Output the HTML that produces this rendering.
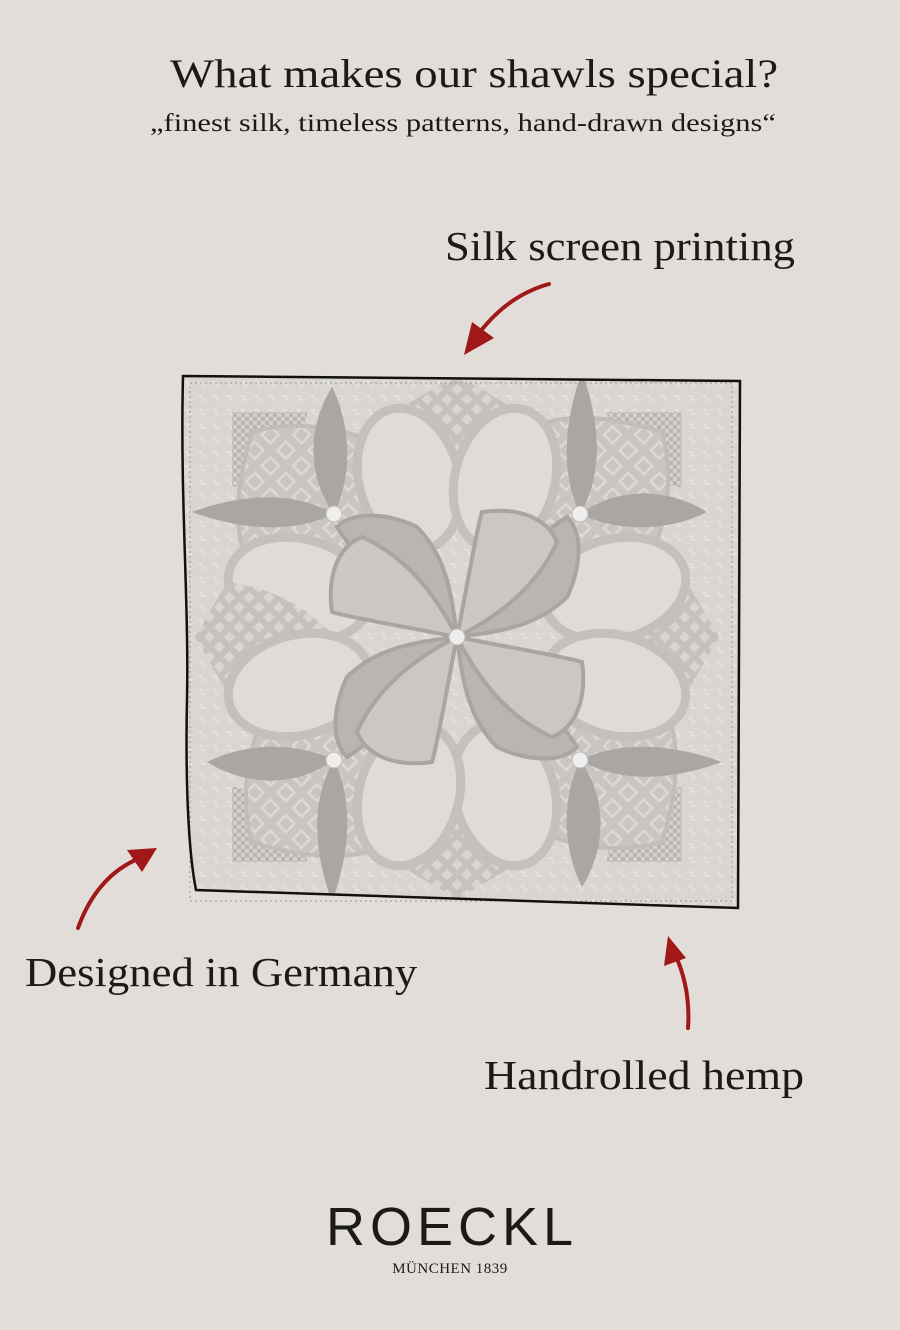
<!DOCTYPE html>
<html><head><meta charset="utf-8">
<style>
html,body{margin:0;padding:0;background:#e2ddd8;}
body{width:900px;height:1330px;position:relative;overflow:hidden;font-family:"Liberation Serif",serif;color:#1a1a1a;}
.t{position:absolute;white-space:nowrap;transform-origin:0 0;}
</style></head><body>
<div class="t" style="left:170px;top:50px;font-size:40px;transform:scaleX(1.17);">What makes our shawls special?</div>
<div class="t" style="left:150px;top:110px;font-size:25px;transform:scaleX(1.22);">„finest silk, timeless patterns, hand-drawn designs“</div>
<div class="t" style="left:445px;top:222px;font-size:41px;transform:scaleX(1.09);">Silk screen printing</div>
<div class="t" style="left:25px;top:948px;font-size:41px;transform:scaleX(1.09);">Designed in Germany</div>
<div class="t" style="left:484px;top:1051px;font-size:41px;transform:scaleX(1.12);">Handrolled hemp</div>
<div class="t" style="left:0;width:900px;text-align:center;top:1196px;font-family:'Liberation Sans',sans-serif;font-size:54px;letter-spacing:5px;padding-left:2px;">ROECKL</div>
<div class="t" style="left:0;width:900px;text-align:center;top:1261px;font-size:15px;letter-spacing:0.5px;">MÜNCHEN 1839</div>

<svg width="900" height="1330" style="position:absolute;left:0;top:0">
<defs>
<clipPath id="cl"><path d="M183,376 L740,381 L738,908 L196,890 C190,860 185,800 187,700 C189,600 180,500 183,376Z"/></clipPath>
<pattern id="lat" width="14" height="14" patternUnits="userSpaceOnUse" patternTransform="rotate(45)">
<rect width="14" height="14" fill="#c4c1be"/><rect x="3" y="3" width="8" height="8" fill="#d8d5d2"/></pattern>
<pattern id="dia" width="22" height="22" patternUnits="userSpaceOnUse" patternTransform="rotate(45)">
<rect width="22" height="22" fill="#c8c5c2"/><rect x="5" y="5" width="12" height="12" fill="none" stroke="#dcd9d6" stroke-width="2.5"/></pattern>
<pattern id="chk" width="8" height="8" patternUnits="userSpaceOnUse">
<rect width="8" height="8" fill="#d4d1ce"/><rect width="4" height="4" fill="#b8b5b2"/><rect x="4" y="4" width="4" height="4" fill="#b8b5b2"/></pattern>
<pattern id="sq" width="14" height="14" patternUnits="userSpaceOnUse">
<rect width="14" height="14" fill="#d8d5d2"/><path d="M2 4h4v4h4" fill="none" stroke="#e6e3e0" stroke-width="1.5"/></pattern>
<g id="q">
<path d="M-225,-225 L-150,-225 C-150,-200 -170,-180 -190,-170 C-205,-160 -215,-150 -225,-150 Z" fill="url(#chk)"/>
<path d="M-205,-205 C-150,-220 -90,-205 -60,-180 C-40,-120 -60,-70 -110,-65 C-170,-60 -215,-70 -215,-90 C-225,-130 -215,-170 -205,-205Z" fill="url(#dia)" stroke="#c0bdba" stroke-width="4"/>
<path d="M0,-262 L55,-230 C50,-200 45,-180 25,-150 L0,-120 L-25,-150 C-45,-180 -50,-200 -55,-230 Z" fill="url(#lat)"/>
<ellipse cx="-48" cy="-158" rx="50" ry="72" fill="#dedbd8" stroke="#c3c0bd" stroke-width="9" transform="rotate(-15 -48 -158)"/>
<ellipse cx="-158" cy="-48" rx="72" ry="50" fill="#dedbd8" stroke="#c3c0bd" stroke-width="9" transform="rotate(15 -158 -48)"/>
<path d="M0,0 C-20,-30 -90,-60 -120,-110 C-100,-130 -60,-120 -40,-110 C-10,-80 -5,-40 0,0Z" fill="#b8b5b2" stroke="#a8a5a2" stroke-width="4"/>
<path d="M0,0 C-50,-10 -110,-20 -125,-25 C-130,-60 -120,-90 -95,-100 C-50,-80 -20,-40 0,0Z" fill="#cac7c4" stroke="#a8a5a2" stroke-width="4"/>
<path d="M-123,-123 C-150,-160 -150,-210 -125,-250 C-105,-210 -105,-160 -123,-123Z" fill="#a9a6a3"/>
<path d="M-123,-123 C-160,-105 -210,-105 -265,-125 C-210,-145 -160,-145 -123,-123Z" fill="#a9a6a3"/>
<circle cx="-123" cy="-123" r="8" fill="#f0eeec" stroke="#bbb" stroke-width="1"/>
</g>
</defs>
<path d="M183,376 L740,381 L738,908 L196,890 C190,860 185,800 187,700 C189,600 180,500 183,376Z" fill="url(#sq)"/>
<g clip-path="url(#cl)">
<g transform="translate(457 637)">
<use href="#q"/>
<use href="#q" transform="rotate(90)"/>
<use href="#q" transform="rotate(180)"/>
<use href="#q" transform="rotate(270)"/>
<circle r="8" fill="#f0eeec" stroke="#bbb" stroke-width="1"/>
</g>
</g>
<rect x="190" y="383" width="542" height="518" fill="none" stroke="#9a9794" stroke-width="1" stroke-dasharray="2 3"/>
<path d="M183,376 L740,381 L738,908 L196,890 C190,860 185,800 187,700 C189,600 180,500 183,376Z" fill="none" stroke="#111" stroke-width="2.5"/>
<g fill="none" stroke="#a01818" stroke-width="4" stroke-linecap="round">
<path d="M549,284 C520,292 495,310 474,340"/>
<path d="M78,928 C90,895 110,870 140,858"/>
<path d="M688,1028 C690,1000 685,975 674,952"/>
</g>
<g fill="#a01818">
<polygon points="464,355 472,322 494,338"/>
<polygon points="157,848 127,850 142,872"/>
<polygon points="668,936 664,966 686,958"/>
</g>
</svg>
</body></html>
